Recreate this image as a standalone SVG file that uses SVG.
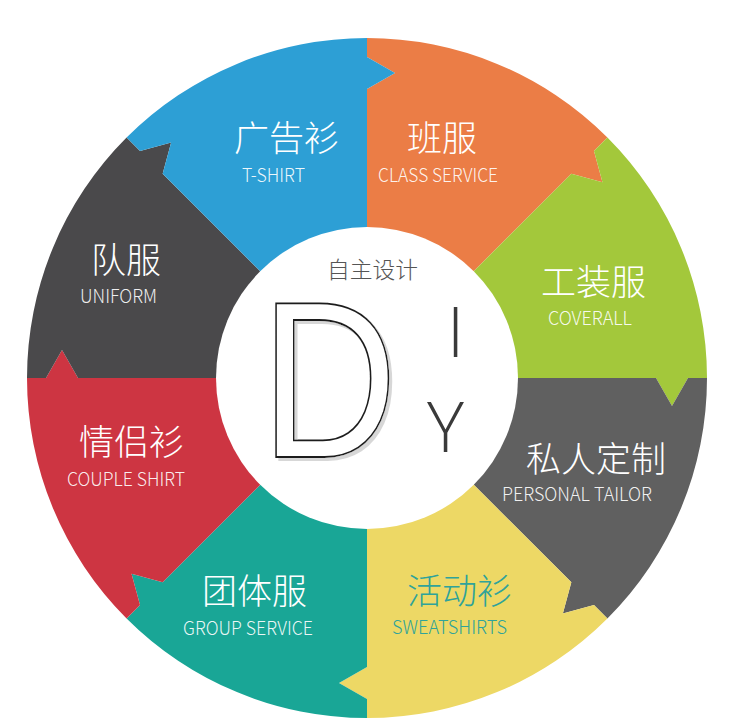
<svg xmlns="http://www.w3.org/2000/svg" width="750" height="728" viewBox="0 0 750 728">
<style>
.cn{font-family:"Noto Sans CJK SC","Noto Sans",sans-serif;font-size:35px;font-weight:300;fill:#ffffff}
.en{font-family:"Noto Sans CJK SC","Noto Sans",sans-serif;font-size:19px;font-weight:300;fill:#ffffff;fill-opacity:0.92}
.teal{fill:#2fa39a;fill-opacity:1}
.big{font-family:"Open Sans","Liberation Sans",sans-serif;font-weight:300;font-size:70px;fill:#3a3a3a;text-anchor:middle}
</style>
<defs>
<filter id="dshadow" x="-10%" y="-10%" width="130%" height="130%">
<feOffset in="SourceAlpha" dx="3" dy="3" result="off"/>
<feColorMatrix in="off" type="matrix" values="0 0 0 0 0.68  0 0 0 0 0.68  0 0 0 0 0.68  0 0 0 1 0" result="gray"/>
<feMerge><feMergeNode in="gray"/><feMergeNode in="SourceGraphic"/></feMerge>
</filter>
</defs>
<rect width="750" height="728" fill="#ffffff"/>
<g id="seg-class">
<path d="M367,378 L367,89 L395,73 L367,57 L367,38 A340,340 0 0 1 607.42,137.58 L593.98,151.02 L602.47,182.13 L571.35,173.65 Z" fill="#eb7d46"/>
<text class="cn" x="407" y="150.5">班服</text>
<text class="en" x="378" y="182" textLength="120" lengthAdjust="spacingAndGlyphs">CLASS SERVICE</text>
</g>
<g id="seg-coverall">
<path d="M367,378 L571.35,173.65 L602.47,182.13 L593.98,151.02 L607.42,137.58 A340,340 0 0 1 707,378 L688,378 L672,406 L656,378 Z" fill="#a3c83b"/>
<text class="cn" x="541" y="294.5">工装服</text>
<text class="en" x="548" y="325" textLength="84" lengthAdjust="spacingAndGlyphs">COVERALL</text>
</g>
<g id="seg-tailor">
<path d="M367,378 L656,378 L672,406 L688,378 L707,378 A340,340 0 0 1 607.42,618.42 L593.98,604.98 L562.87,613.47 L571.35,582.35 Z" fill="#606060"/>
<text class="cn" x="526" y="471.5">私人定制</text>
<text class="en" x="502" y="501" textLength="150" lengthAdjust="spacingAndGlyphs">PERSONAL TAILOR</text>
</g>
<g id="seg-sweat">
<path d="M367,378 L571.35,582.35 L562.87,613.47 L593.98,604.98 L607.42,618.42 A340,340 0 0 1 367,718 L367,699 L339,683 L367,667 Z" fill="#edd865"/>
<text class="cn teal" x="407" y="603.5">活动衫</text>
<text class="en teal" x="392" y="634" textLength="115" lengthAdjust="spacingAndGlyphs">SWEATSHIRTS</text>
</g>
<g id="seg-group">
<path d="M367,378 L367,667 L339,683 L367,699 L367,718 A340,340 0 0 1 126.58,618.42 L140.02,604.98 L131.53,573.87 L162.65,582.35 Z" fill="#19a696"/>
<text class="cn" x="202" y="603.5">团体服</text>
<text class="en" x="183" y="635" textLength="130" lengthAdjust="spacingAndGlyphs">GROUP SERVICE</text>
</g>
<g id="seg-couple">
<path d="M367,378 L162.65,582.35 L131.53,573.87 L140.02,604.98 L126.58,618.42 A340,340 0 0 1 27,378 L46,378 L62,350 L78,378 Z" fill="#cd3542"/>
<text class="cn" x="79" y="454.5">情侣衫</text>
<text class="en" x="67" y="486" textLength="118" lengthAdjust="spacingAndGlyphs">COUPLE SHIRT</text>
</g>
<g id="seg-uniform">
<path d="M367,378 L78,378 L62,350 L46,378 L27,378 A340,340 0 0 1 126.58,137.58 L140.02,151.02 L171.13,142.53 L162.65,173.65 Z" fill="#4a494b"/>
<text class="cn" x="91" y="272.5">队服</text>
<text class="en" x="80" y="303" textLength="77" lengthAdjust="spacingAndGlyphs">UNIFORM</text>
</g>
<g id="seg-tshirt">
<path d="M367,378 L162.65,173.65 L171.13,142.53 L140.02,151.02 L126.58,137.58 A340,340 0 0 1 367,38 L367,57 L395,73 L367,89 Z" fill="#2d9fd5"/>
<text class="cn" x="234" y="150.5">广告衫</text>
<text class="en" x="242" y="182" textLength="63" lengthAdjust="spacingAndGlyphs">T-SHIRT</text>
</g>
<g id="center">
<circle cx="367" cy="378" r="151" fill="#ffffff"/>
<text x="327" y="278" font-family="Noto Sans CJK SC,sans-serif" font-size="23" font-weight="300" fill="#555555" textLength="91" lengthAdjust="spacingAndGlyphs">自主设计</text>
<g transform="translate(275,457) scale(0.855,1)">
<text x="-17.1" y="0" font-family="Liberation Sans,Arial,sans-serif" font-size="222" fill="#ffffff" stroke="#1a1a1a" stroke-width="1.8" filter="url(#dshadow)">D</text>
</g>
<text class="big" x="455.5" y="357">I</text>
<text class="big" x="445.5" y="452">Y</text>
</g>
</svg>
